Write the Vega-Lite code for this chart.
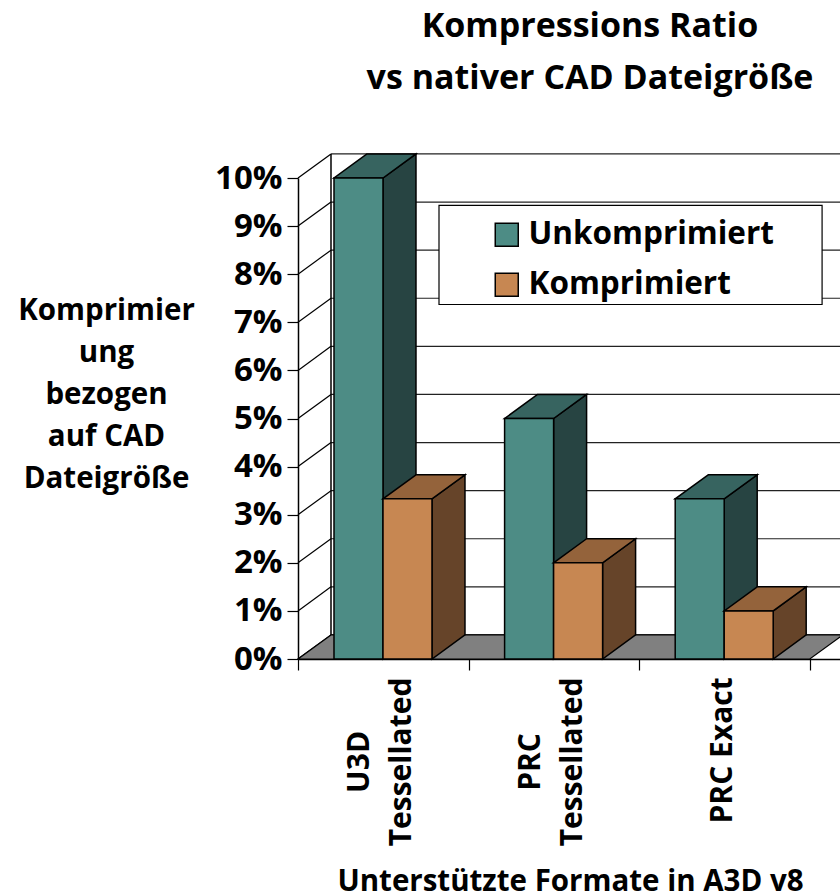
{
"$schema":"https://vega.github.io/schema/vega-lite/v6.json",
"width":542,"height":481,
"autosize":{"type":"none"},
"padding":{"left":298,"top":178,"right":0,"bottom":234},
"background":"white",
"config":{"view":{"stroke":null},"font":"Open Sans"},
"title":{"text":["Kompressions Ratio","vs nativer CAD Dateigröße"],"anchor":"middle","frame":"group","dx":21,"offset":55,"fontSize":34,"fontWeight":"bold","lineHeight":52,"color":"black","font":"Open Sans"},
"datasets":{
"bars":[
{"format":"U3D\nTessellated","series":"Unkomprimiert","value":10},
{"format":"U3D\nTessellated","series":"Komprimiert","value":3.33},
{"format":"PRC\nTessellated","series":"Unkomprimiert","value":5},
{"format":"PRC\nTessellated","series":"Komprimiert","value":2},
{"format":"PRC Exact","series":"Unkomprimiert","value":3.33},
{"format":"PRC Exact","series":"Komprimiert","value":1}
],
"levels":[{"pct":0},{"pct":1},{"pct":2},{"pct":3},{"pct":4},{"pct":5},{"pct":6},{"pct":7},{"pct":8},{"pct":9},{"pct":10}]
},
"layer":[
{"data":{"name":"levels"},
 "transform":[{"calculate":"datum.pct+0.5","as":"back"}],
 "mark":{"type":"rule","color":"black","strokeWidth":1.2},
 "encoding":{
  "x":{"datum":0,"type":"quantitative","scale":{"domain":[0,3.177],"nice":false,"zero":false},
   "axis":{"values":[0,1,2,3],"labels":false,"grid":false,"tickSize":11,"tickColor":"black","domainColor":"black","domainWidth":1.5,"tickWidth":1.2,"title":"Unterstützte Formate in A3D v8","titleFontSize":29.5,"titleFontWeight":"bold","titleColor":"black","titleX":272,"titleY":231,"titleBaseline":"alphabetic","titleAnchor":"middle","titleAlign":"center"}},
  "x2":{"datum":0.1934},
  "y":{"field":"pct","type":"quantitative","scale":{"domain":[0,10],"nice":false,"zero":false},
   "axis":{"values":[0,1,2,3,4,5,6,7,8,9,10],"labelExpr":"datum.value+'%'","labelFontSize":33,"labelFontWeight":"bold","labelColor":"black","labelPadding":5,"grid":false,"tickSize":11,"tickColor":"black","tickWidth":1.2,"domainColor":"black","domainWidth":1.5,
    "title":["Komprimier","ung","bezogen","auf CAD","Dateigröße"],"titleAngle":0,"titleFontSize":29.5,"titleFontWeight":"bold","titleColor":"black","titleLineHeight":42,"titleX":-192,"titleY":141,"titleAlign":"center","titleBaseline":"alphabetic"}},
  "y2":{"field":"back"}
 }},
{"data":{"name":"levels"},
 "transform":[{"calculate":"datum.pct+0.5","as":"back"}],
 "mark":{"type":"rule","color":"#222222","strokeWidth":1.2},
 "encoding":{
  "x":{"datum":0.1934,"type":"quantitative"},
  "x2":{"datum":3.2},
  "y":{"field":"back","type":"quantitative"}
 }},
{"data":{"values":[{"side":"back wall"}]},
 "mark":{"type":"rule","color":"black","strokeWidth":1.5},
 "encoding":{
  "x":{"datum":0.1934,"type":"quantitative"},
  "y":{"datum":0.5,"type":"quantitative"},
  "y2":{"datum":10.5}
 }},
{"data":{"values":[{"t":0},{"t":1}]},
 "transform":[{"calculate":"datum.t*0.1934","as":"fa"},{"calculate":"datum.fa+3","as":"fb"},{"calculate":"datum.t*0.5","as":"fy"}],
 "mark":{"type":"area","orient":"horizontal","fill":"#808080","stroke":"black","strokeWidth":1.2},
 "encoding":{
  "x":{"field":"fa","type":"quantitative"},
  "x2":{"field":"fb"},
  "y":{"field":"fy","type":"quantitative"}
 }},
{"data":{"name":"bars"},
 "transform":[
  {"calculate":"indexof(['U3D\\nTessellated','PRC\\nTessellated','PRC Exact'],datum.format)","as":"idx"},
  {"calculate":"datum.series==='Unkomprimiert'?0:1","as":"si"},
  {"calculate":"datum.idx+0.211+datum.si*0.2872","as":"xa"},
  {"calculate":"datum.xa+0.2872","as":"xb"},
  {"calculate":"[0,1]","as":"t"},
  {"flatten":["t"]},
  {"calculate":"datum.xb+datum.t*0.1934","as":"sx"},
  {"calculate":"datum.value+datum.t*0.5","as":"sy"},
  {"calculate":"datum.t*0.5","as":"sy0"},
  {"calculate":"datum.xa+datum.t*0.1934","as":"ta"}
 ],
 "layer":[
  {"transform":[{"filter":"datum.si===0"}],
   "mark":{"type":"area","orient":"vertical","fill":"#274442","stroke":"black","strokeWidth":1.5},
   "encoding":{"detail":{"field":"format"},"x":{"field":"sx","type":"quantitative"},"y":{"field":"sy","type":"quantitative"},"y2":{"field":"sy0"}}},
  {"transform":[{"filter":"datum.si===0"}],
   "mark":{"type":"area","orient":"horizontal","fill":"#376460","stroke":"black","strokeWidth":1.5},
   "encoding":{"detail":{"field":"format"},"x":{"field":"ta","type":"quantitative"},"x2":{"field":"sx"},"y":{"field":"sy","type":"quantitative"}}},
  {"transform":[{"filter":"datum.si===0 && datum.t===0"}],
   "mark":{"type":"rect","stroke":"black","strokeWidth":1.5},
   "encoding":{"x":{"field":"xa","type":"quantitative"},"x2":{"field":"xb"},"y":{"field":"value","type":"quantitative"},"y2":{"datum":0},
    "fill":{"field":"series","type":"nominal","scale":{"domain":["Unkomprimiert","Komprimiert"],"range":["#4D8C85","#C78752"]},
     "legend":{"title":null,"orient":"none","legendX":193,"legendY":41,"symbolType":"square","symbolSize":529,"symbolStrokeColor":"black","symbolStrokeWidth":1.5,"labelFontSize":31.5,"labelFontWeight":"bold","labelColor":"black","labelOffset":6,"rowPadding":17,"padding":0,"labelLimit":400}}}},
  {"transform":[{"filter":"datum.si===1"}],
   "mark":{"type":"area","orient":"vertical","fill":"#664429","stroke":"black","strokeWidth":1.5},
   "encoding":{"detail":{"field":"format"},"x":{"field":"sx","type":"quantitative"},"y":{"field":"sy","type":"quantitative"},"y2":{"field":"sy0"}}},
  {"transform":[{"filter":"datum.si===1"}],
   "mark":{"type":"area","orient":"horizontal","fill":"#94633B","stroke":"black","strokeWidth":1.5},
   "encoding":{"detail":{"field":"format"},"x":{"field":"ta","type":"quantitative"},"x2":{"field":"sx"},"y":{"field":"sy","type":"quantitative"}}},
  {"transform":[{"filter":"datum.si===1 && datum.t===0"}],
   "mark":{"type":"rect","stroke":"black","strokeWidth":1.5},
   "encoding":{"x":{"field":"xa","type":"quantitative"},"x2":{"field":"xb"},"y":{"field":"value","type":"quantitative"},"y2":{"datum":0},
    "fill":{"field":"series","type":"nominal"}}},
  {"transform":[{"filter":"datum.si===0 && datum.t===0"},{"calculate":"datum.idx+(datum.format==='PRC Exact'?0.49:0.365)","as":"lx"},{"calculate":"datum.format==='PRC Exact'?-1.9:-2.14","as":"ly"}],
   "mark":{"type":"text","angle":270,"align":"center","baseline":"middle","fontSize":30,"fontWeight":"bold","color":"black","lineBreak":"\n","lineHeight":42},
   "encoding":{"x":{"field":"lx","type":"quantitative"},"y":{"field":"ly","type":"quantitative"},"text":{"field":"format"}}}
 ]},
{"data":{"values":[{"box":"legend"}]},
 "mark":{"type":"rect","fill":"white","stroke":"black","strokeWidth":1.2},
 "encoding":{
  "x":{"datum":0.8265,"type":"quantitative"},
  "x2":{"datum":3.072},
  "y":{"datum":9.43,"type":"quantitative"},
  "y2":{"datum":7.37}
 }}
]
}
